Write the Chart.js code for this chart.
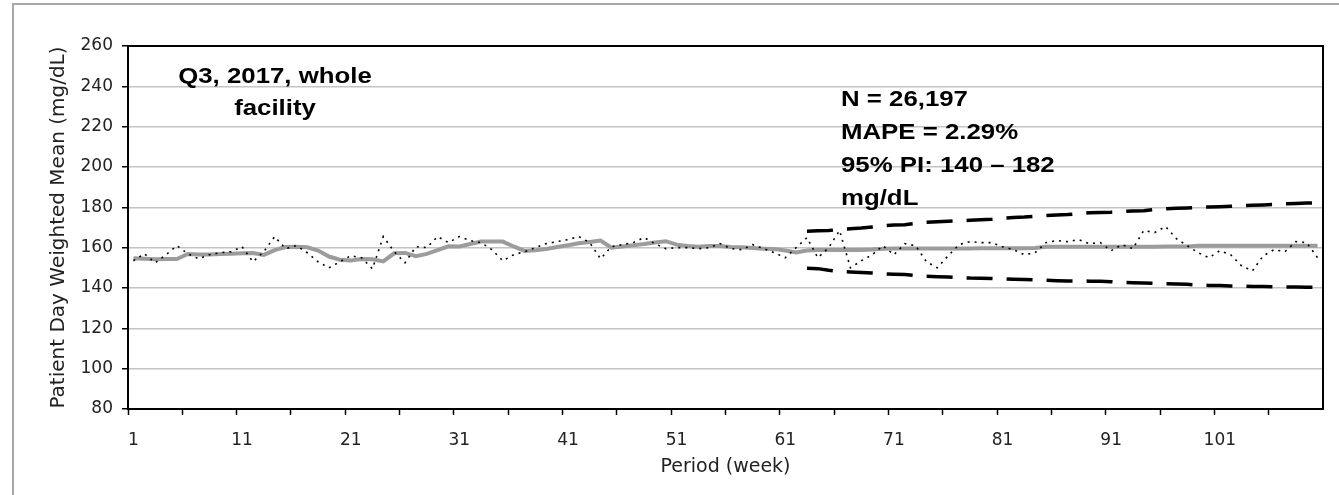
<!DOCTYPE html>
<html>
<head>
<meta charset="utf-8">
<title>Patient Day Weighted Mean</title>
<script src="https://cdn.jsdelivr.net/npm/chart.js@4.4.1/dist/chart.umd.min.js"></script>
<style>
  html, body { margin: 0; padding: 0; background: #fff; }
  canvas { display: block; }
</style>
</head>
<body>
<canvas id="pdwm" width="1339" height="495"></canvas>
<script>
// period (week) categories 1..110
var weeks = [];
for (var w = 1; w <= 110; w++) weeks.push(String(w));
var xTickLabels = ['1', '11', '21', '31', '41', '51', '61', '71', '81', '91', '101'];

// y axis range (mg/dL)
var yMin = 80, yMax = 260, yStep = 20;

// weekly observed mean, weeks 1..110
var observed = [
  153.5, 157.0, 152.5, 156.5, 161.0, 157.0, 154.5, 156.5, 157.5, 158.0,
  160.5, 153.0, 158.0, 165.5, 159.5, 161.0, 157.5, 153.0, 150.0, 153.0,
  156.0, 155.0, 149.5, 165.5, 158.0, 152.5, 160.5, 160.0, 165.5, 162.5,
  165.5, 163.5, 162.5, 159.0, 153.5, 156.5, 158.0, 160.0, 162.0, 163.0,
  164.0, 165.5, 162.5, 154.5, 160.5, 161.5, 162.5, 165.0, 162.0, 159.5,
  160.0, 160.0, 159.5, 160.0, 162.0, 159.5, 159.0, 161.5, 159.5, 157.5,
  155.0, 160.0, 165.0, 155.0, 160.0, 168.5, 150.0, 153.5, 156.5, 161.0,
  156.5, 162.0, 161.0, 153.0, 150.0, 156.0, 161.5, 163.0, 162.5, 162.5,
  160.5, 159.0, 156.5, 157.5, 162.5, 163.5, 163.0, 164.0, 162.0, 162.5,
  158.5, 161.5, 159.5, 168.5, 167.5, 170.5, 164.5, 161.0, 157.5, 155.0,
  158.5, 156.5, 151.0, 148.5, 156.0, 159.0, 158.0, 163.0, 162.5, 155.0
];

// model fit / forecast, weeks 1..110
var fitted = [
  154.8, 154.5, 154.2, 154.4, 154.4, 156.9, 156.6, 156.6, 156.8, 157.0,
  157.2, 157.3, 156.4, 158.8, 160.3, 160.4, 160.2, 158.6, 155.6, 154.0,
  153.6, 154.4, 154.2, 153.2, 157.2, 157.4, 155.8, 156.9, 158.8, 160.7,
  160.6, 161.8, 163.0, 163.0, 163.0, 160.6, 158.4, 158.7, 159.3, 160.3,
  161.2, 162.2, 162.8, 163.5, 160.0, 160.6, 161.2, 161.8, 162.6, 163.2,
  161.5, 160.8, 160.5, 160.8, 160.8, 160.3, 160.2, 159.8, 159.5, 159.3,
  158.6, 157.6, 158.6, 158.9, 158.9, 158.9, 158.9, 158.9, 159.1, 159.5,
  159.6, 159.6, 159.6, 159.6, 159.6, 159.6, 159.6, 159.6, 159.7, 159.7,
  159.7, 159.7, 159.7, 159.8, 160.4, 160.5, 160.5, 160.5, 160.5, 160.5,
  160.5, 160.5, 160.5, 160.5, 160.5, 160.6, 160.6, 160.6, 161.0, 161.0,
  161.0, 161.0, 161.0, 161.0, 161.0, 161.0, 161.0, 161.0, 161.0, 161.0
];

// 95% prediction interval, weeks 63..110
var piStart = 63;
var piUpper = [
  168.2, 168.4, 168.5, 169.0, 169.4, 169.7, 170.2, 170.8, 171.2, 171.4,
  172.0, 172.6, 172.9, 173.1, 173.3, 173.6, 173.8, 174.1, 174.6, 175.0,
  175.2, 175.6, 176.0, 176.2, 176.4, 176.9, 177.3, 177.4, 177.6, 178.0,
  178.2, 178.3, 178.9, 179.3, 179.5, 179.7, 180.0, 180.2, 180.3, 180.5,
  180.8, 181.0, 181.2, 181.4, 181.7, 181.9, 182.1, 182.3
];
var piLower = [
  149.8, 149.6, 148.8, 148.2, 147.9, 147.7, 147.4, 147.0, 146.8, 146.7,
  146.2, 145.8, 145.6, 145.5, 145.2, 144.9, 144.8, 144.7, 144.5, 144.3,
  144.2, 144.0, 143.8, 143.6, 143.5, 143.5, 143.4, 143.3, 143.1, 142.8,
  142.6, 142.5, 142.3, 142.1, 142.0, 141.8, 141.5, 141.3, 141.2, 141.0,
  140.9, 140.7, 140.7, 140.6, 140.5, 140.5, 140.4, 140.3
];

// text boxes inside the plot
var titleNote = ['Q3, 2017, whole', 'facility'];
var statsNote = ['N = 26,197', 'MAPE = 2.29%', '95% PI: 140 \u2013 182', 'mg/dL'];

function piPoints(vals) {
  return vals.map(function(v, i) { return { x: String(piStart + i), y: v }; });
}

// white page + grey outer frame
var pageFrame = {
  id: 'pageFrame',
  beforeDraw: function(chart) {
    var c = chart.ctx;
    c.save();
    c.fillStyle = '#fff';
    c.fillRect(0, 0, chart.width, chart.height);
    c.strokeStyle = '#a8a8a8';
    c.lineWidth = 2;
    c.strokeRect(13, 4, chart.width + 20, chart.height + 20);
    c.restore();
  }
};

// black box round the plot area and the bold notes
function wideText(c, s, x, y, align) {
  c.save();
  c.translate(x, y);
  c.scale(1.2, 1);
  c.textAlign = align;
  c.fillText(s, 0, 0);
  c.restore();
}

var plotNotes = {
  id: 'plotNotes',
  afterDraw: function(chart) {
    var c = chart.ctx, a = chart.chartArea;
    c.save();
    c.strokeStyle = '#000';
    c.lineWidth = 2;
    c.strokeRect(a.left, a.top, a.right - a.left, a.bottom - a.top);

    c.fillStyle = '#000';
    c.font = 'bold 21.5px "Liberation Sans", Arial, sans-serif';
    c.textBaseline = 'alphabetic';
    titleNote.forEach(function(s, i) { wideText(c, s, 275, 83 + i * 32, 'center'); });
    statsNote.forEach(function(s, i) { wideText(c, s, 841, 106 + i * 33, 'left'); });
    c.restore();
  }
};

var ctx = document.getElementById('pdwm').getContext('2d');
var myChart = new Chart(ctx, {
  type: 'line',
  data: {
    labels: weeks,
    datasets: [{
      label: 'Fitted',
      data: fitted,
      borderColor: '#9c9c9c',
      borderWidth: 4,
      pointRadius: 0,
      tension: 0,
      order: 2
    }, {
      label: 'Observed',
      data: observed,
      borderColor: '#000',
      borderWidth: 1.6,
      borderDash: [2, 5],
      pointRadius: 0,
      tension: 0,
      order: 1
    }, {
      label: 'Upper 95% PI',
      data: piPoints(piUpper),
      borderColor: '#000',
      borderWidth: 3.5,
      borderDash: [26, 14],
      pointRadius: 0,
      tension: 0,
      order: 0
    }, {
      label: 'Lower 95% PI',
      data: piPoints(piLower),
      borderColor: '#000',
      borderWidth: 3.5,
      borderDash: [26, 14],
      pointRadius: 0,
      tension: 0,
      order: 0
    }]
  },
  options: {
    responsive: false,
    animation: false,
    devicePixelRatio: 1,
    layout: { padding: { left: 0, top: 46, right: 16, bottom: 0 } },
    plugins: {
      legend: { display: false },
      tooltip: { enabled: false }
    },
    scales: {
      x: {
        type: 'category',
        offset: true,
        afterFit: function(scale) { scale.height = 86; },
        grid: {
          offset: true,
          drawOnChartArea: false,
          tickLength: 6,
          tickWidth: 1.5,
          tickColor: function(c) { return (c.index % 5 === 0) ? '#000' : 'rgba(0,0,0,0)'; }
        },
        border: { color: '#000', width: 2 },
        ticks: {
          autoSkip: false,
          maxRotation: 0,
          padding: 15,
          color: '#222',
          font: { family: '"DejaVu Sans", sans-serif', size: 17 },
          callback: function(v, i) {
            var lab = this.getLabelForValue(v);
            return xTickLabels.indexOf(lab) >= 0 ? lab : '';
          }
        },
        title: {
          display: true,
          text: 'Period (week)',
          color: '#222',
          font: { family: '"DejaVu Sans", sans-serif', size: 19 },
          padding: { top: 0, bottom: 16.6 }
        }
      },
      y: {
        min: yMin,
        max: yMax,
        afterFit: function(scale) { scale.width = 128; },
        grid: {
          color: '#c4c4c4',
          lineWidth: 1.5,
          tickLength: 6,
          tickColor: '#000',
          tickWidth: 1.5
        },
        border: { color: '#000', width: 2 },
        ticks: {
          stepSize: yStep,
          padding: 9,
          color: '#222',
          font: { family: '"DejaVu Sans", sans-serif', size: 17 }
        },
        title: {
          display: true,
          text: 'Patient Day Weighted Mean (mg/dL)',
          color: '#222',
          font: { family: '"DejaVu Sans", sans-serif', size: 20 },
          padding: { top: 47, bottom: 0 }
        }
      }
    }
  },
  plugins: [pageFrame, plotNotes]
});
</script>
</body>
</html>
